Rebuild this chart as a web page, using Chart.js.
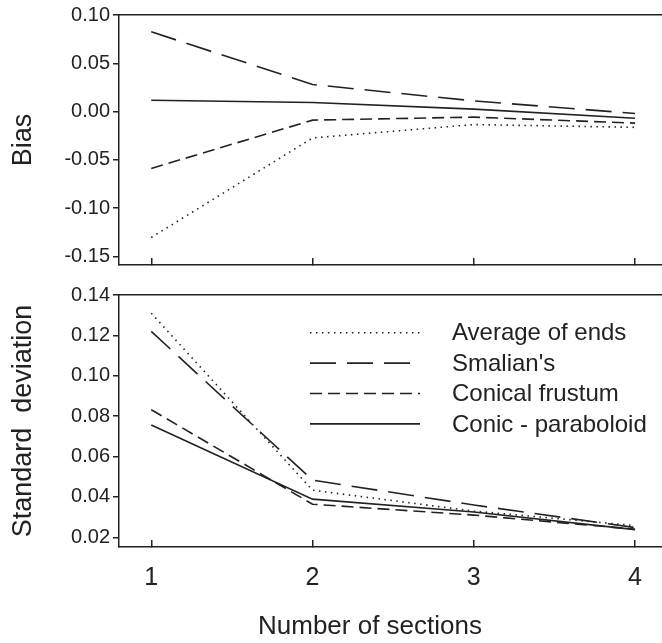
<!DOCTYPE html>
<html>
<head>
<meta charset="utf-8">
<script src="https://cdn.jsdelivr.net/npm/chart.js@4.4.1/dist/chart.umd.min.js"></script>
<style>
  html, body { margin: 0; padding: 0; background: #fff; }
  #wrap { position: relative; width: 662px; height: 643px; overflow: hidden; }
  #bias-chart { position: absolute; left: 0; top: 0; }
  #sd-chart { position: absolute; left: 0; top: 280px; }
</style>
</head>
<body>
<div id="wrap">
  <canvas id="bias-chart" width="662" height="280"></canvas>
  <canvas id="sd-chart" width="662" height="363"></canvas>
</div>
<script>
const SECTIONS = [1, 2, 3, 4];
const SERIES_NAMES = ['Average of ends', "Smalian's", 'Conical frustum', 'Conic - paraboloid'];

const BIAS_AVERAGE_ENDS = [-0.1305, -0.0274, -0.0135, -0.0164];
const BIAS_SMALIAN = [0.0826, 0.028, 0.011, -0.002];
const BIAS_FRUSTUM = [-0.059, -0.0089, -0.0058, -0.012];
const BIAS_PARABOLOID = [0.0117, 0.0093, 0.0025, -0.007];

const SD_AVERAGE_ENDS = [0.131, 0.0433, 0.033, 0.0258];
const SD_SMALIAN = [0.122, 0.0483, 0.036, 0.0248];
const SD_FRUSTUM = [0.0832, 0.0364, 0.031, 0.024];
const SD_PARABOLOID = [0.0756, 0.0389, 0.0325, 0.0238];

const BIAS_TICKS = [-0.15, -0.10, -0.05, 0.00, 0.05, 0.10];
const SD_TICKS = [0.02, 0.04, 0.06, 0.08, 0.10, 0.12, 0.14];

const FONT = "'Liberation Sans', Arial, sans-serif";
const INK = '#222';
const DASHES = [[1.5, 4.5], [26, 11], [12, 6], []];
const X_MIN = 0.8;
const X_MAX = 4.167;

function makeDatasets(seriesList) {
  return seriesList.map((values, i) => ({
    label: SERIES_NAMES[i],
    data: values.map((y, j) => ({ x: SECTIONS[j], y })),
    borderColor: INK,
    borderWidth: 1.6,
    borderDash: DASHES[i],
    pointRadius: 0,
    tension: 0,
    fill: false
  }));
}

function xAxis(showLabels) {
  return {
    type: 'linear',
    position: 'bottom',
    min: X_MIN,
    max: X_MAX,
    afterBuildTicks: (scale) => { scale.ticks = SECTIONS.map((v) => ({ value: v })); },
    afterFit: (scale) => {
      scale.height = showLabels ? 96 : 14;
      // labels sit well inside the frame, so don't let them shrink the plot
      scale.paddingLeft = 0;
      scale.paddingRight = 0;
    },
    grid: { drawOnChartArea: false, tickLength: -7, color: INK, lineWidth: 1.5 },
    border: { color: INK, width: 1.5 },
    ticks: {
      display: showLabels,
      padding: 23,
      color: INK,
      font: { family: FONT, size: 25, lineHeight: 1.2 }
    }
  };
}

// plain line along the top of each panel
function topEdge() {
  return {
    type: 'linear',
    position: 'top',
    min: X_MIN,
    max: X_MAX,
    afterFit: (scale) => { scale.height = 0; },
    grid: { drawOnChartArea: false, drawTicks: false },
    border: { color: INK, width: 1.5 },
    ticks: { display: false }
  };
}

function yAxis(min, max, tickValues, title) {
  return {
    type: 'linear',
    min,
    max,
    afterBuildTicks: (scale) => { scale.ticks = tickValues.map((v) => ({ value: v })); },
    afterFit: (scale) => { scale.width = 119; },
    grid: { drawOnChartArea: false, tickLength: 6, color: INK, lineWidth: 1.5 },
    border: { color: INK, width: 1.5 },
    ticks: {
      padding: 3,
      color: INK,
      font: { family: FONT, size: 20 },
      callback: (value) => Number(value).toFixed(2)
    },
    title: {
      display: true,
      text: title,
      color: INK,
      font: { family: FONT, size: 27, lineHeight: 1.2 },
      padding: { top: 7, bottom: 0 }
    }
  };
}

const legendAndTitle = {
  id: 'legendAndTitle',
  afterDraw(chart) {
    const ctx = chart.ctx;
    ctx.save();
    chart.data.datasets.forEach((ds, i) => {
      const y = 52.7 + i * 30.4;
      ctx.beginPath();
      ctx.setLineDash(ds.borderDash);
      ctx.lineWidth = ds.borderWidth;
      ctx.strokeStyle = ds.borderColor;
      ctx.moveTo(310, y);
      ctx.lineTo(420, y);
      ctx.stroke();
      ctx.setLineDash([]);
      ctx.fillStyle = INK;
      ctx.font = `24px ${FONT}`;
      ctx.textAlign = 'left';
      ctx.textBaseline = 'middle';
      ctx.fillText(ds.label, 452, y + 1);
    });
    ctx.font = `26px ${FONT}`;
    ctx.textAlign = 'center';
    ctx.textBaseline = 'middle';
    ctx.fillText('Number of sections', 370, 347);
    ctx.restore();
  }
};

function makeChart(canvas, datasets, y, showXLabels, plugins) {
  return new Chart(canvas, {
    type: 'line',
    data: { datasets },
    options: {
      responsive: false,
      animation: false,
      layout: { padding: { top: 14, left: 0, right: 0, bottom: 0 } },
      plugins: { legend: { display: false }, tooltip: { enabled: false } },
      scales: { x: xAxis(showXLabels), xTop: topEdge(), y }
    },
    plugins
  });
}

makeChart(
  document.getElementById('bias-chart'),
  makeDatasets([BIAS_AVERAGE_ENDS, BIAS_SMALIAN, BIAS_FRUSTUM, BIAS_PARABOLOID]),
  yAxis(-0.159, 0.10, BIAS_TICKS, 'Bias'),
  false,
  []
);

makeChart(
  document.getElementById('sd-chart'),
  makeDatasets([SD_AVERAGE_ENDS, SD_SMALIAN, SD_FRUSTUM, SD_PARABOLOID]),
  yAxis(0.0152, 0.14, SD_TICKS, 'Standard  deviation'),
  true,
  [legendAndTitle]
);
</script>
</body>
</html>
